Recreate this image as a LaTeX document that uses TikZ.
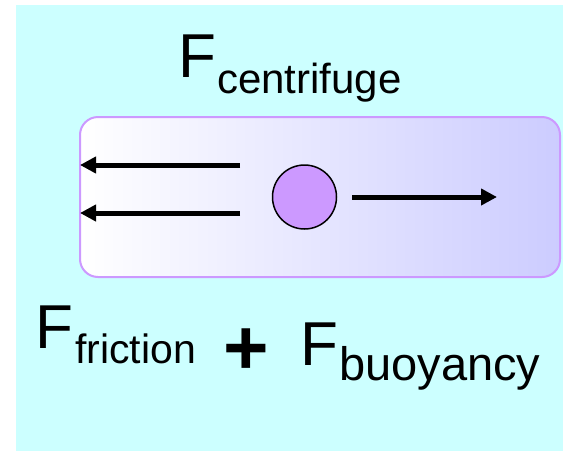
\documentclass[tikz,border=0pt]{standalone}
\usepackage{fontspec}
\setmainfont{Liberation Sans}
\usetikzlibrary{arrows.meta}
\definecolor{bgcyan}{HTML}{CCFFFF}
\definecolor{boxedge}{HTML}{CC99FF}
\definecolor{boxright}{HTML}{CCCCFF}
\definecolor{ballfill}{HTML}{CC99FF}
\begin{document}
\begin{tikzpicture}[x=1pt,y=-1pt,
  bigF/.style={anchor=base west,inner sep=0pt,font=\fontsize{62}{62}\selectfont},
  sublabel/.style={anchor=base west,inner sep=0pt},
  force/.style={line width=5pt,-{Triangle[length=16pt,width=16pt]}}]
\useasboundingbox (0,0) rectangle (563,451);
\fill[bgcyan] (16,5) rectangle (563,451);
\shade[left color=white,right color=boxright,rounded corners=18pt] (80,117) rectangle (560,277);
\draw[boxedge,line width=2pt,rounded corners=18pt] (80,117) rectangle (560,277);
% labels
\node[bigF] (fc) at (178,77) {F};
\node[sublabel,font=\fontsize{42}{42}\selectfont] (fcs) at (217,93) {centrifuge};
\node[bigF] (ff) at (35,348) {F};
\node[sublabel,font=\fontsize{41}{41}\selectfont] (ffs) at (75,363) {friction};
\node[anchor=base,inner sep=0pt,font=\fontsize{78}{78}\selectfont\bfseries] (plus) at (246.5,374) {+};
\node[bigF] (fb) at (300,365) {F};
\node[sublabel,font=\fontsize{47}{47}\selectfont] (fbs) at (339,380) {buoyancy};
% particle
\node[circle,draw=black,line width=1.5pt,fill=ballfill,minimum size=64pt,inner sep=0pt] (ball) at (304.5,197) {};
% arrows
\coordinate (a1s) at (240,165);
\coordinate (a1e) at (80,165);
\coordinate (a2s) at (240,213);
\coordinate (a2e) at (80,213);
\coordinate (a3s) at (352,197);
\coordinate (a3e) at (497,197);
\draw[force] (a1s) -- (a1e);
\draw[force] (a2s) -- (a2e);
\draw[force] (a3s) -- (a3e);
\end{tikzpicture}
\end{document}
